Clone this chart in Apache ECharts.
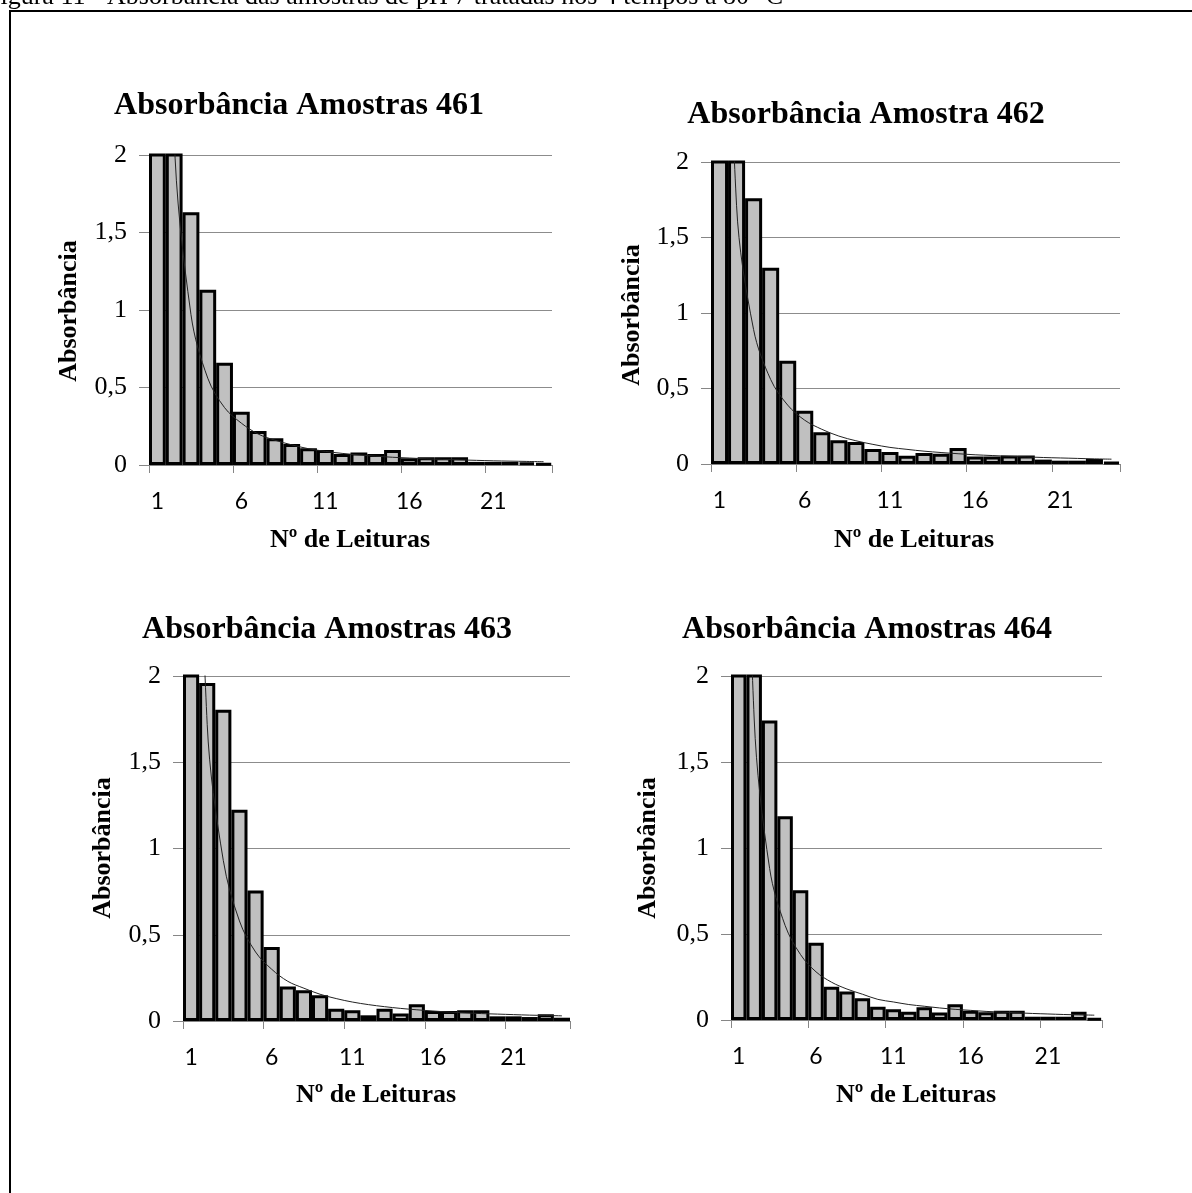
<!DOCTYPE html>
<html>
<head>
<meta charset="utf-8">
<script src="https://cdn.jsdelivr.net/npm/echarts@6/dist/echarts.min.js"></script>
<style>
  html, body { margin: 0; padding: 0; background: #fff; }
  #main { width: 1192px; height: 1193px; }
</style>
</head>
<body>
<div id="main"></div>
<script>
// readings 1..24
const leituras = ['1','2','3','4','5','6','7','8','9','10','11','12','13','14','15','16','17','18','19','20','21','22','23','24'];
const yTicks = [0, 0.5, 1, 1.5, 2];

const abs461 = [2.3, 2.2, 1.63, 1.13, 0.66, 0.344, 0.22, 0.172, 0.135, 0.108, 0.097, 0.071, 0.08, 0.071, 0.097, 0.043, 0.05, 0.05, 0.05, 0.02, 0.02, 0.02, 0.015, 0.01];
const trend461 = [8.1, 2.13, 0.97, 0.56, 0.37, 0.27, 0.2, 0.16, 0.13, 0.105, 0.088, 0.075, 0.065, 0.057, 0.05, 0.045, 0.04, 0.036, 0.033, 0.03, 0.027, 0.025, 0.023, 0.021];

const abs462 = [2.3, 2.2, 1.76, 1.3, 0.684, 0.353, 0.21, 0.157, 0.146, 0.099, 0.08, 0.055, 0.073, 0.068, 0.106, 0.05, 0.05, 0.057, 0.057, 0.029, 0.022, 0.022, 0.033, 0.013];
const trend462 = [5.2, 1.71, 0.89, 0.56, 0.39, 0.29, 0.23, 0.185, 0.154, 0.13, 0.11, 0.097, 0.085, 0.076, 0.068, 0.061, 0.056, 0.051, 0.047, 0.043, 0.04, 0.037, 0.034, 0.032];

const abs463 = [2.2, 1.96, 1.805, 1.225, 0.757, 0.429, 0.2, 0.178, 0.149, 0.071, 0.062, 0.033, 0.071, 0.043, 0.097, 0.058, 0.058, 0.062, 0.062, 0.027, 0.027, 0.023, 0.039, 0.019];
const trend463 = [4.8, 1.72, 0.93, 0.58, 0.4, 0.3, 0.23, 0.19, 0.155, 0.13, 0.11, 0.095, 0.083, 0.073, 0.065, 0.058, 0.052, 0.047, 0.043, 0.04, 0.037, 0.034, 0.032, 0.03];

const abs464 = [2.3, 2.2, 1.742, 1.185, 0.755, 0.449, 0.194, 0.165, 0.126, 0.077, 0.062, 0.048, 0.074, 0.043, 0.091, 0.054, 0.045, 0.054, 0.054, 0.019, 0.019, 0.019, 0.048, 0.01];
const trend464 = [5.0, 1.75, 0.88, 0.55, 0.38, 0.28, 0.22, 0.18, 0.15, 0.12, 0.105, 0.09, 0.08, 0.07, 0.062, 0.056, 0.05, 0.046, 0.042, 0.038, 0.035, 0.032, 0.03, 0.028];

const titles = ['Absorbância Amostras 461', 'Absorbância Amostra 462', 'Absorbância Amostras 463', 'Absorbância Amostras 464'];
const caption = 'Figura 11 - Absorbância das amostras de pH 7 tratadas nos 4 tempos a 80 °C';

const SERIF = '"Liberation Serif", "Times New Roman", serif';

// panel layout: grid box, title centre, y name centre, x name centre
const panels = [
    { bars: abs461, trend: trend461, grid: { left: 149, top: 155, width: 403, height: 310 }, title: [299, 106], yName: [69, 311], xName: [350, 540] },
    { bars: abs462, trend: trend462, grid: { left: 711, top: 162, width: 409, height: 302 }, title: [866, 115], yName: [632, 315], xName: [914, 540] },
    { bars: abs463, trend: trend463, grid: { left: 183, top: 676, width: 387, height: 345 }, title: [327, 630], yName: [103, 848], xName: [376, 1095] },
    { bars: abs464, trend: trend464, grid: { left: 731, top: 676, width: 371, height: 344 }, title: [867, 630], yName: [648, 848], xName: [916, 1095] }
];

const myChart = echarts.init(document.getElementById('main'), null, { renderer: 'canvas' });

const grid = [], xAxis = [], yAxis = [], series = [];
const graphic = [
    { type: 'rect', silent: true, z: -1, shape: { x: 10, y: 11, width: 1400, height: 1400 }, style: { fill: 'none', stroke: '#000', lineWidth: 2 } },
    { type: 'text', x: -14, y: 10, style: { text: caption, font: '26px ' + SERIF, fill: '#000', textAlign: 'left', textVerticalAlign: 'bottom' } }
];

panels.forEach((p, i) => {
    grid.push(Object.assign({ containLabel: false }, p.grid));
    xAxis.push({
        type: 'category',
        gridIndex: i,
        data: leituras,
        boundaryGap: true,
        axisLine: { show: true, lineStyle: { color: '#868686', width: 1 } },
        axisTick: { show: true, interval: 4, length: 8, lineStyle: { color: '#868686' } },
        axisLabel: { interval: 4, margin: 25, color: '#000', fontFamily: 'Lato', fontSize: 23 },
        splitLine: { show: false }
    });
    yAxis.push({
        type: 'value',
        gridIndex: i,
        min: yTicks[0],
        max: yTicks[yTicks.length - 1],
        interval: 0.5,
        axisLine: { show: true, lineStyle: { color: '#868686', width: 1 } },
        axisTick: { show: true, length: 10, lineStyle: { color: '#868686' } },
        axisLabel: { margin: 22, color: '#000', fontFamily: SERIF, fontSize: 26, formatter: v => String(v).replace('.', ',') },
        splitLine: { show: true, lineStyle: { color: '#8c8c8c', width: 1 } }
    });
    series.push({
        type: 'bar',
        xAxisIndex: i,
        yAxisIndex: i,
        data: p.bars,
        barCategoryGap: '0%',
        clip: true,
        itemStyle: { color: '#c0c0c0', borderColor: '#000', borderWidth: 3 }
    });
    series.push({
        type: 'line',
        xAxisIndex: i,
        yAxisIndex: i,
        data: p.trend,
        smooth: 0.35,
        showSymbol: false,
        symbol: 'none',
        clip: true,
        lineStyle: { color: '#222', width: 1 },
        z: 3
    });
    graphic.push({ type: 'text', x: p.title[0], y: p.title[1], style: { text: titles[i], font: 'bold 32px ' + SERIF, fill: '#000', textAlign: 'center', textVerticalAlign: 'middle' } });
    graphic.push({ type: 'text', x: p.yName[0], y: p.yName[1], rotation: Math.PI / 2, style: { text: 'Absorbância', font: 'bold 26px ' + SERIF, fill: '#000', textAlign: 'center', textVerticalAlign: 'middle' } });
    graphic.push({ type: 'text', x: p.xName[0], y: p.xName[1], style: { text: 'Nº de Leituras', font: 'bold 26px ' + SERIF, fill: '#000', textAlign: 'center', textVerticalAlign: 'middle' } });
});

const option = {
    backgroundColor: '#fff',
    animation: false,
    grid: grid,
    xAxis: xAxis,
    yAxis: yAxis,
    series: series,
    graphic: graphic
};
myChart.setOption(option);
window.addEventListener('resize', () => myChart.resize());
</script>
</body>
</html>
